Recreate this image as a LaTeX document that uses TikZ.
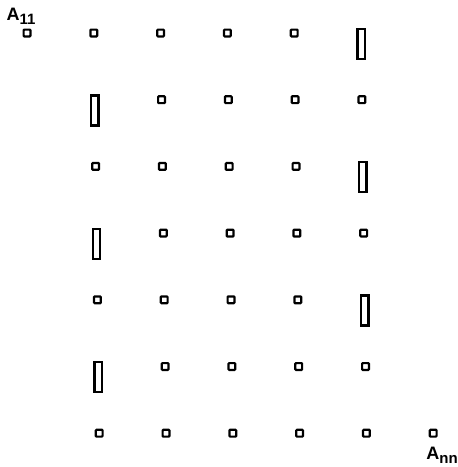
\documentclass[tikz,border=0pt]{standalone}
\usepackage{fontspec}
\setsansfont{Liberation Sans}
\newcommand{\subidx}[1]{\raisebox{-0.45ex}{\fontsize{7.5}{8}\selectfont #1}}
\begin{document}
\begin{tikzpicture}[x=0.5pt,y=-0.5pt,
 sq/.style={draw,line width=1.1pt,minimum width=3.4pt,minimum height=3.4pt,inner sep=0pt,rounded corners=0.4pt},
 tall/.style={draw,line width=1.2pt,minimum width=3.7pt,minimum height=15pt,inner sep=0pt,anchor=north},
 lab/.style={font=\sffamily\bfseries\fontsize{9}{10}\selectfont,inner sep=0pt}]
\useasboundingbox (0,0) rectangle (458,467);
% first element
\node[sq] (s00) at (27,33) {};
\node[lab] (a11) at (21,16) {A\subidx{11}};
% rows with squares in columns 1-4 and a tall box in column 5
\foreach \r in {0,2,4}{
  \foreach \c in {1,...,4}{
    \node[sq] (s\r\c) at ({27+66.8*\c+0.9*\r},{33+66.7*\r}) {};
  }
  \node[tall] (t\r) at ({27+66.8*5+0.9*\r},{33+66.7*\r-5.5}) {};
}
% rows with a tall box in column 1 and squares in columns 2-5
\foreach \r in {1,3,5}{
  \node[tall] (t\r) at ({27+66.8*1+0.9*\r},{33+66.7*\r-5.5}) {};
  \foreach \c in {2,...,5}{
    \node[sq] (s\r\c) at ({27+66.8*\c+0.9*\r},{33+66.7*\r}) {};
  }
}
% last row
\foreach \c in {1,...,6}{
  \node[sq] (s6\c) at ({27+66.8*\c+0.9*6},{33+66.7*6}) {};
}
\node[lab] (ann) at (442,455) {A\subidx{nn}};
\end{tikzpicture}
\end{document}
